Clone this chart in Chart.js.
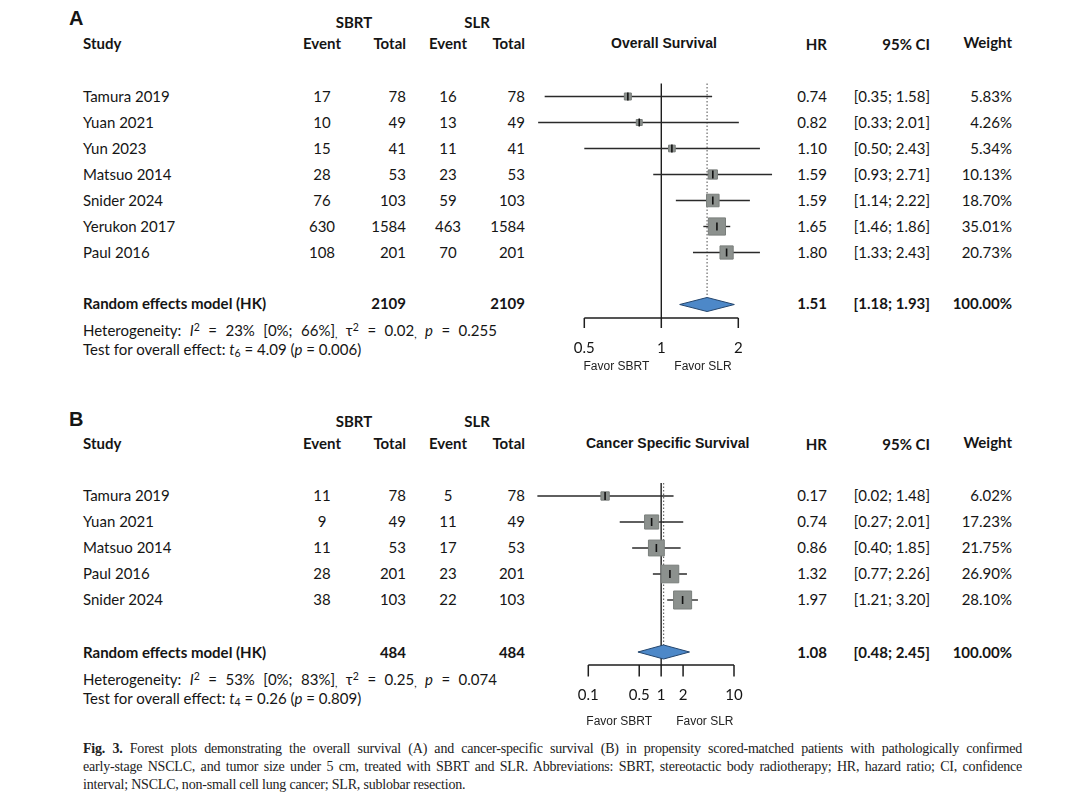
<!DOCTYPE html>
<html><head><meta charset="utf-8">
<script src="https://cdn.jsdelivr.net/npm/chart.js@4.4.1/dist/chart.umd.min.js"></script>
<style>
html,body{margin:0;padding:0;background:#fff;}
#page{position:relative;width:1080px;height:804px;overflow:hidden;font-family:Lato,"Open Sans",sans-serif;color:#151515;}
.t{position:absolute;white-space:nowrap;line-height:1;}
.t sup,.t sub{font-size:70%;line-height:0;}
.t sup{vertical-align:0.45em;}
.t sub{vertical-align:-0.25em;}
canvas{position:absolute;}
.cap{position:absolute;left:83px;width:939px;font-family:"Liberation Serif","Times New Roman",serif;font-size:14px;letter-spacing:-0.2px;line-height:18px;white-space:nowrap;color:#222;}
.cap.j{text-align:justify;text-align-last:justify;}
</style></head><body><div id="page">
<canvas id="cA" width="260" height="330" style="left:530px;top:60px"></canvas>
<canvas id="cB" width="260" height="280" style="left:530px;top:460px"></canvas>
</div>
<script>
// ---------- DATA (panel A: overall survival) ----------
const studiesA   = ['Tamura 2019','Yuan 2021','Yun 2023','Matsuo 2014','Snider 2024','Yerukon 2017','Paul 2016'];
const sbrtEventA = [17, 10, 15, 28, 76, 630, 108];
const sbrtTotalA = [78, 49, 41, 53, 103, 1584, 201];
const slrEventA  = [16, 13, 11, 23, 59, 463, 70];
const slrTotalA  = [78, 49, 41, 53, 103, 1584, 201];
const hrA        = [0.74, 0.82, 1.10, 1.59, 1.59, 1.65, 1.80];
const loA        = [0.35, 0.33, 0.50, 0.93, 1.14, 1.46, 1.33];
const hiA        = [1.58, 2.01, 2.43, 2.71, 2.22, 1.86, 2.43];
const weightA    = [5.83, 4.26, 5.34, 10.13, 18.70, 35.01, 20.73];
const summaryA   = {hr:1.51, lo:1.18, hi:1.93, sbrtTotal:2109, slrTotal:2109, weight:100.00};
const hetA       = {i2:23, i2lo:0, i2hi:66, tau2:'0.02', p:'0.255'};
const testA      = {df:6, t:'4.09', p:'0.006'};
const ticksA     = [0.5, 1, 2];
const titleA     = 'Overall Survival';

// ---------- DATA (panel B: cancer specific survival) ----------
const studiesB   = ['Tamura 2019','Yuan 2021','Matsuo 2014','Paul 2016','Snider 2024'];
const sbrtEventB = [11, 9, 11, 28, 38];
const sbrtTotalB = [78, 49, 53, 201, 103];
const slrEventB  = [5, 11, 17, 23, 22];
const slrTotalB  = [78, 49, 53, 201, 103];
const hrB        = [0.17, 0.74, 0.86, 1.32, 1.97];
const loB        = [0.02, 0.27, 0.40, 0.77, 1.21];
const hiB        = [1.48, 2.01, 1.85, 2.26, 3.20];
const weightB    = [6.02, 17.23, 21.75, 26.90, 28.10];
const summaryB   = {hr:1.08, lo:0.48, hi:2.45, sbrtTotal:484, slrTotal:484, weight:100.00};
const hetB       = {i2:53, i2lo:0, i2hi:83, tau2:'0.25', p:'0.074'};
const testB      = {df:4, t:'0.26', p:'0.809'};
const ticksB     = [0.1, 0.5, 1, 2, 10];
const titleB     = 'Cancer Specific Survival';

const favorLabels = ['Favor SBRT', 'Favor SLR'];

// ---------- LAYOUT ----------
const COL = {study:83, sbrtEv:322, sbrtTot:406, slrEv:448, slrTot:525, hr:827, ci:930, w:1012, sbrtHead:354, slrHead:477, letter:69};
const layoutA = {letterY:18, groupY:21.5, headY:43, row0:95.5, step:26, sumY:303, hetY:329.5, testY:348.5, titleX:664,
  cv:{left:530, top:60, w:260, h:330}, plotRow0:96.5, axisRow:8.52, tickLen:10, labelOff:30, favorOff:49,
  boxK:2.9, ref:[0.5,584.3,2,738.3], gapL:12, gapR:13};
const layoutB = {letterY:419, groupY:420.5, headY:442.5, row0:494.8, step:26, sumY:651.5, hetY:679.3, testY:698.3, titleX:667.7,
  cv:{left:530, top:460, w:260, h:280}, plotRow0:496, axisRow:6.5, tickLen:11.5, labelOff:30, favorOff:57,
  boxK:3.4, ref:[0.1,588.3,10,734], gapL:9, gapR:15};

const page = document.getElementById('page');
function txt(x, y, html, align, style){
  const d = document.createElement('div');
  d.className = 't';
  d.innerHTML = html;
  d.style.left = x + 'px';
  d.style.top = y + 'px';
  const tx = align === 'center' ? '-50%' : align === 'right' ? '-100%' : '0';
  d.style.transform = 'translate(' + tx + ',-50%)';
  d.style.fontSize = '15px';
  if (style) Object.assign(d.style, style);
  page.appendChild(d);
  return d;
}
const B = {fontWeight:'700'};
const f2 = v => v.toFixed(2);

function buildTable(L, letter, studies, se, st, le, lt, hr, lo, hi, w, sum, het, test, title){
  txt(COL.letter, L.letterY, letter, 'left', {fontFamily:'"Liberation Sans",Arial,sans-serif', fontWeight:'700', fontSize:'20px'});
  txt(COL.sbrtHead, L.groupY, 'SBRT', 'center', B);
  txt(COL.slrHead, L.groupY, 'SLR', 'center', B);
  txt(COL.study, L.headY, 'Study', 'left', B);
  txt(COL.sbrtEv, L.headY, 'Event', 'center', B);
  txt(COL.sbrtTot, L.headY, 'Total', 'right', B);
  txt(COL.slrEv, L.headY, 'Event', 'center', B);
  txt(COL.slrTot, L.headY, 'Total', 'right', B);
  txt(L.titleX, L.headY, title, 'center', {fontFamily:'"Liberation Sans",Arial,sans-serif', fontWeight:'700', fontSize:'14px'});
  txt(COL.hr, L.headY + 1, 'HR', 'right', B);
  txt(COL.ci, L.headY + 1, '95% CI', 'right', B);
  txt(COL.w, L.headY - 1, 'Weight', 'right', B);
  studies.forEach((s, i) => {
    const y = L.row0 + i * L.step;
    txt(COL.study, y, s, 'left');
    txt(COL.sbrtEv, y, String(se[i]), 'center');
    txt(COL.sbrtTot, y, String(st[i]), 'right');
    txt(COL.slrEv, y, String(le[i]), 'center');
    txt(COL.slrTot, y, String(lt[i]), 'right');
    txt(COL.hr, y, f2(hr[i]), 'right');
    txt(COL.ci, y, '[' + f2(lo[i]) + '; ' + f2(hi[i]) + ']', 'right');
    txt(COL.w, y, f2(w[i]) + '%', 'right');
  });
  txt(COL.study, L.sumY, 'Random effects model (HK)', 'left', B);
  txt(COL.sbrtTot, L.sumY, String(sum.sbrtTotal), 'right', B);
  txt(COL.slrTot, L.sumY, String(sum.slrTotal), 'right', B);
  txt(COL.hr, L.sumY, f2(sum.hr), 'right', B);
  txt(COL.ci, L.sumY, '[' + f2(sum.lo) + '; ' + f2(sum.hi) + ']', 'right', B);
  txt(COL.w, L.sumY, f2(sum.weight) + '%', 'right', B);
  txt(COL.study, L.hetY, 'Heterogeneity: <i>I</i><sup>2</sup> = ' + het.i2 + '% [' + het.i2lo + '%; ' + het.i2hi + '%]<sub>,</sub> \u03C4<sup>2</sup> = ' + het.tau2 + '<sub>,</sub> <i>p</i> = ' + het.p, 'left', {fontSize:'15px', wordSpacing:'4.6px'});
  txt(COL.study, L.testY, 'Test for overall effect: <i>t</i><sub>' + test.df + '</sub> = ' + test.t + ' (<i>p</i> = ' + test.p + ')', 'left', {fontSize:'15px'});
}

buildTable(layoutA, 'A', studiesA, sbrtEventA, sbrtTotalA, slrEventA, slrTotalA, hrA, loA, hiA, weightA, summaryA, hetA, testA, titleA);
buildTable(layoutB, 'B', studiesB, sbrtEventB, sbrtTotalB, slrEventB, slrTotalB, hrB, loB, hiB, weightB, summaryB, hetB, testB, titleB);

// caption
const cap = [
  ['j', '<b>Fig. 3.</b> Forest plots demonstrating the overall survival (A) and cancer-specific survival (B) in propensity scored-matched patients with pathologically confirmed'],
  ['j', 'early-stage NSCLC, and tumor size under 5 cm, treated with SBRT and SLR. Abbreviations: SBRT, stereotactic body radiotherapy; HR, hazard ratio; CI, confidence'],
  ['', 'interval; NSCLC, non-small cell lung cancer; SLR, sublobar resection.']
];
cap.forEach((c, i) => {
  const d = document.createElement('div');
  d.className = 'cap ' + c[0];
  d.style.top = (740 + i * 18) + 'px';
  d.innerHTML = c[1];
  page.appendChild(d);
});

// ---------- CHARTS ----------
const forestAxis = {
  id: 'forestAxis',
  afterDatasetsDraw(chart, args, o) {
    const ctx = chart.ctx, xs = chart.scales.x, ys = chart.scales.y;
    const y = ys.getPixelForValue(o.axisRow);
    const px = v => xs.getPixelForValue(v);
    ctx.save();
    ctx.strokeStyle = '#1e1e1e';
    ctx.lineWidth = 1.5;
    ctx.beginPath();
    ctx.moveTo(px(o.ticks[0]), y);
    ctx.lineTo(px(o.ticks[o.ticks.length - 1]), y);
    o.ticks.forEach(v => { ctx.moveTo(px(v), y); ctx.lineTo(px(v), y + o.tickLen); });
    ctx.stroke();
    ctx.fillStyle = '#151515';
    ctx.textAlign = 'center';
    ctx.textBaseline = 'middle';
    ctx.font = '15px Lato, "Open Sans", sans-serif';
    o.ticks.forEach(v => ctx.fillText(String(v), px(v), y + o.labelOff));
    ctx.font = '12px "Liberation Sans", Arial, sans-serif';
    ctx.fillStyle = '#222';
    ctx.textAlign = 'right';
    ctx.fillText(o.labels[0], px(1) - o.gapL, y + o.favorOff);
    ctx.textAlign = 'left';
    ctx.fillText(o.labels[1], px(1) + o.gapR, y + o.favorOff);
    ctx.restore();
  }
};

function makeForest(id, L, hr, lo, hi, w, sum, ticks){
  const n = hr.length, sumRow = n + 1, dh = 0.27;
  const [v1, p1, v2, p2] = L.ref;
  const k = (p2 - p1) / (Math.log10(v2) - Math.log10(v1));
  const xMin = Math.pow(10, Math.log10(v1) - (p1 - L.cv.left) / k);
  const xMax = Math.pow(10, Math.log10(v1) + (L.cv.left + L.cv.w - p1) / k);
  const yMin = -(L.plotRow0 - L.cv.top) / L.step;
  const yMax = yMin + L.cv.h / L.step;
  const pts = hr.map((v, i) => ({x: v, y: i}));
  const ds = [];
  ds.push({type:'scatter', data: pts, pointStyle:'line', pointRotation:90, pointRadius:4,
    pointBorderColor:'#111', pointBorderWidth:1.6, order:0});
  ds.push({type:'scatter', data: pts, pointStyle:'rect', pointRotation:0,
    pointRadius: w.map(v => L.boxK * Math.sqrt(v) / Math.SQRT2),
    pointBackgroundColor:'#8c918e', pointBorderColor:'#7a7f7c', pointBorderWidth:1, order:1});
  ds.push({type:'line', data:[{x:sum.lo,y:sumRow},{x:sum.hr,y:sumRow-dh},{x:sum.hi,y:sumRow},{x:sum.hr,y:sumRow+dh},{x:sum.lo,y:sumRow}],
    fill:'shape', backgroundColor:'#4d88c8', borderColor:'#23456d', borderWidth:1, pointRadius:0, tension:0, order:2});
  lo.forEach((l, i) => ds.push({type:'line', data:[{x:l,y:i},{x:hi[i],y:i}], borderColor:'#2a2a2a', borderWidth:1.4, pointRadius:0, order:3}));
  ds.push({type:'line', data:[{x:1,y:-0.5},{x:1,y:L.axisRow}], borderColor:'#1e1e1e', borderWidth:1.4, pointRadius:0, order:4});
  ds.push({type:'line', data:[{x:sum.hr,y:-0.5},{x:sum.hr,y:sumRow-dh}], borderColor:'#6a6a6a', borderWidth:1.2, borderDash:[1.5,2], pointRadius:0, order:4});
  return new Chart(document.getElementById(id), {
    type:'scatter',
    data:{datasets: ds},
    options:{
      responsive:false, animation:false, events:[],
      layout:{padding:0, autoPadding:false},
      scales:{
        x:{type:'logarithmic', min:xMin, max:xMax, bounds:'data', display:false},
        y:{type:'linear', min:yMin, max:yMax, reverse:true, display:false}
      },
      elements:{line:{tension:0}},
      datasets:{line:{clip:false}, scatter:{clip:false}},
      plugins:{legend:{display:false}, tooltip:{enabled:false},
        forestAxis:{axisRow:L.axisRow, ticks:ticks, tickLen:L.tickLen, labelOff:L.labelOff, favorOff:L.favorOff, labels:favorLabels, gapL:L.gapL, gapR:L.gapR}}
    },
    plugins:[forestAxis]
  });
}

makeForest('cA', layoutA, hrA, loA, hiA, weightA, summaryA, ticksA);
makeForest('cB', layoutB, hrB, loB, hiB, weightB, summaryB, ticksB);
</script>
</body></html>
